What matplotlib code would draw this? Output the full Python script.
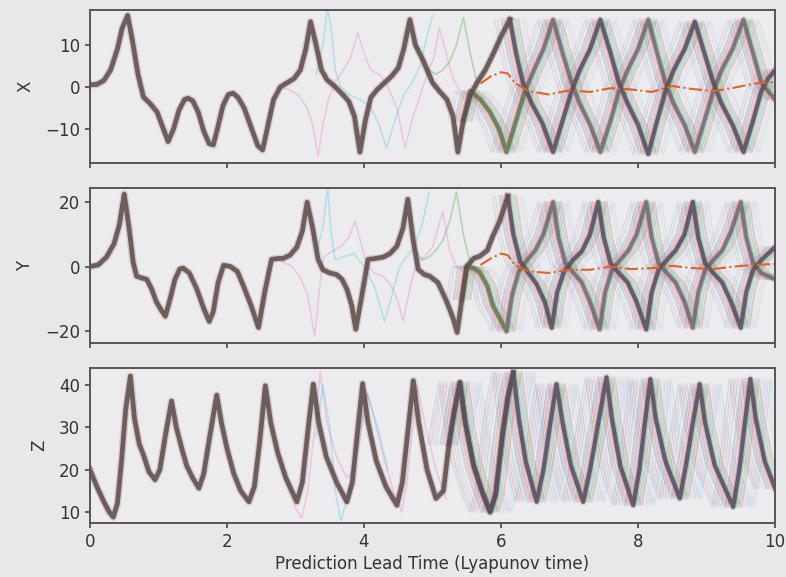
import numpy as np
import matplotlib.pyplot as plt
from matplotlib.transforms import offset_copy

# ---- values ----
# main (ensemble core) trajectory, before the ensemble splits
t_x_main = [0.00, 0.10, 0.20, 0.30, 0.40, 0.47, 0.55, 0.62, 0.70, 0.78, 0.88, 0.98, 1.06, 1.14,
            1.22, 1.30, 1.38, 1.43, 1.50, 1.58, 1.66, 1.74, 1.80, 1.86, 1.94, 2.02, 2.09, 2.16,
            2.25, 2.35, 2.45, 2.52, 2.60, 2.68, 2.78, 2.88, 2.98, 3.07, 3.15, 3.22, 3.30, 3.38,
            3.46, 3.58, 3.70, 3.78, 3.86, 3.94, 4.02, 4.10, 4.19, 4.30, 4.40, 4.50, 4.58, 4.67,
            4.75, 4.86, 5.00, 5.10, 5.21, 5.30, 5.37, 5.45, 5.55, 5.65, 5.77, 5.89, 6.00, 6.13]
x_main = [0.5, 0.6, 1.5, 4, 9, 14, 17, 11, 3, -2.4, -4, -6, -9.5, -13,
          -10, -5.5, -3, -2.7, -3.3, -6, -10.5, -13.5, -13.8, -10, -4.5, -1.8, -1.5, -2.5,
          -5, -9.5, -14, -15, -9, -3, 0, 1, 2, 4, 9, 15.5, 10, 4,
          1.7, 0, -2, -3.5, -7, -15.5, -8, -2.5, -0.7, 1, 2.5, 4.5, 9, 16,
          10, 6.4, 1, -1, -3, -7, -15.5, -8, -2, 1, 4, 8, 12, 16]

t_y_main = [0, 0.12, 0.24, 0.35, 0.43, 0.50, 0.57, 0.63, 0.68, 0.75, 0.83, 0.90, 0.97, 1.04,
            1.10, 1.17, 1.24, 1.31, 1.36, 1.45, 1.56, 1.66, 1.74, 1.80, 1.87, 1.95, 2.05, 2.15,
            2.24, 2.35, 2.46, 2.55, 2.65, 2.75, 2.82, 2.92, 3.02, 3.10, 3.17, 3.25, 3.33, 3.40,
            3.50, 3.60, 3.68, 3.75, 3.82, 3.88, 3.96, 4.06, 4.17, 4.28, 4.38, 4.48, 4.57, 4.64,
            4.72, 4.79, 4.88, 4.96, 5.08, 5.21, 5.30, 5.36, 5.43, 5.50, 5.60, 5.69, 5.80, 5.88,
            5.98, 6.10]
y_main = [0, 0.5, 2.9, 7, 13, 22.4, 12, 1.3, -3, -3.5, -4, -7, -11, -13.5,
          -15.4, -10, -4, -0.8, -0.5, -2, -7, -13, -17, -14, -5, 0.4, 0, -1.5,
          -6, -12, -18.9, -8, 2.2, 2.5, 2.5, 3.5, 6, 11, 19.9, 12, 2.2, -1,
          -2, -2.5, -4, -7, -12, -19.4, -10, 2.2, 2.5, 2.9, 4, 6.3, 12, 20.8,
          8, -0.8, -2.5, -3, -5, -11, -16, -20.4, -10, 0, 2.5, 3.2, 5, 9.4,
          14, 21.8]

t_z_main = [0, 0.10, 0.20, 0.28, 0.34, 0.40, 0.46, 0.52, 0.59, 0.65, 0.72, 0.78, 0.86, 0.95,
            1.02, 1.10, 1.19, 1.26, 1.34, 1.41, 1.50, 1.59, 1.66, 1.75, 1.85, 1.92, 2.00, 2.10,
            2.20, 2.32, 2.40, 2.48, 2.56, 2.64, 2.74, 2.86, 3.02, 3.10, 3.18, 3.26, 3.34, 3.45,
            3.60, 3.75, 3.83, 3.90, 3.98, 4.06, 4.18, 4.32, 4.48, 4.56, 4.64, 4.72, 4.80, 4.92,
            5.05, 5.16, 5.24, 5.32, 5.40, 5.48, 5.60, 5.72, 5.84, 5.92, 6.02, 6.10, 6.18]
z_main = [20, 16, 12.5, 10, 8.8, 12, 22, 34, 42.1, 32, 26, 23.5, 19.5, 17.6,
          20, 28, 36.2, 30, 25, 21, 18, 15.6, 19, 28, 37.6, 31, 25, 19,
          15, 12.4, 16, 27, 39.8, 31, 24, 18, 12.4, 17, 29, 40.2, 31, 23,
          17, 12.4, 17, 28, 40.3, 31, 22, 16, 11.6, 17, 29, 41, 31, 20,
          13.2, 15, 26, 34, 40.6, 31, 21, 15, 10, 14, 28, 37, 43]

# late ensemble: bundle A (continues the core) and bundle B (anti-phase)
t_x_a = [6.13, 6.22, 6.32, 6.45, 6.60, 6.76, 6.90, 7.03, 7.15, 7.30, 7.45, 7.60, 7.72, 7.85,
         8.00, 8.15, 8.28, 8.40, 8.52, 8.68, 8.83, 8.97, 9.10, 9.22, 9.38, 9.54, 9.68, 9.80,
         9.90, 10.0]
x_a = [16, 8, 1, -4, -8.5, -15.5, -8, -1, 4, 9, 16, 8, 1, -4,
       -9, -16, -8, -1, 4, 9, 15.5, 8, 1, -4, -9, -15.5, -8, -1, 2, 4]
t_x_b = [5.45, 5.55, 5.70, 5.84, 5.97, 6.08, 6.22, 6.35, 6.48, 6.62, 6.76, 6.90, 7.03, 7.15,
         7.30, 7.45, 7.60, 7.72, 7.85, 8.00, 8.15, 8.28, 8.40, 8.52, 8.68, 8.83, 8.97, 9.10,
         9.22, 9.38, 9.54, 9.68, 9.80, 9.90, 10.0]
x_b = [-8, -1, -3, -6, -10, -15.5, -8, -1, 4, 9, 16, 8, 1, -4,
       -9, -15.5, -8, -1, 4, 9, 16, 8, 1, -4, -9, -15.5, -8, -1, 4, 9,
       16, 8, 1, -1, -3]

t_y_a = [6.10, 6.18, 6.28, 6.40, 6.52, 6.64, 6.74, 6.82, 6.92, 7.05, 7.18, 7.30, 7.42, 7.50,
         7.60, 7.72, 7.85, 7.98, 8.12, 8.20, 8.30, 8.42, 8.55, 8.68, 8.80, 8.88, 8.98, 9.10,
         9.23, 9.36, 9.50, 9.58, 9.68, 9.80, 9.90, 10.0]
y_a = [21.8, 10, 1.6, -2, -5.5, -11, -19, -8, -1.5, 2, 4.7, 10, 20, 9,
       1, -2, -5, -11, -19.5, -8, -1, 2, 5, 10, 20, 9, 1, -2,
       -5, -11, -19, -8, -1, 2, 4, 6]
t_y_b = [5.43, 5.50, 5.60, 5.69, 5.80, 5.88, 5.98, 6.08, 6.16, 6.26, 6.38, 6.50, 6.62, 6.76,
         6.84, 6.94, 7.06, 7.18, 7.30, 7.44, 7.52, 7.62, 7.74, 7.86, 7.98, 8.12, 8.20, 8.30,
         8.42, 8.55, 8.68, 8.80, 8.88, 8.98, 9.10, 9.23, 9.36, 9.50, 9.58, 9.68, 9.80, 9.90, 10.0]
y_b = [-10, 0, -0.5, -1.8, -6, -12, -16, -20, -9, -1.5, 2, 5, 10, 20,
       9, 1, -2, -5, -11, -19.5, -8, -1, 2, 5, 10, 20, 9, 1,
       -2, -5, -11, -19, -8, -1, 2, 5, 11, 20, 9, 1, -2, -3, -4]

t_z_a = [5.24, 5.32, 5.40, 5.48, 5.60, 5.72, 5.84, 5.92, 6.02, 6.10,
         6.18, 6.26, 6.36, 6.52, 6.62, 6.72, 6.81, 6.90, 7.02, 7.20, 7.30, 7.42, 7.54, 7.62,
         7.74, 7.93, 8.02, 8.10, 8.18, 8.26, 8.40, 8.61, 8.70, 8.80, 8.90, 8.98, 9.12, 9.39,
         9.48, 9.56, 9.64, 9.72, 9.85, 10.0]
z_a = [26, 34, 40.6, 31, 21, 15, 10, 14, 28, 37,
       43, 32, 22, 12.4, 20, 31, 40.2, 31, 21, 12.4, 20, 31, 41.8, 32,
       21, 11.6, 20, 31, 41.4, 32, 22, 13.2, 21, 31, 40.2, 31, 21, 11.2,
       20, 31, 41.4, 32, 22, 15.6]

# a few members that leave the core early (faint lines)
t_x_pink = [2.73, 2.80, 2.92, 3.05, 3.17, 3.25, 3.33, 3.40, 3.48, 3.60, 3.70, 3.80, 3.91, 4.00,
            4.10, 4.23, 4.35, 4.48, 4.60, 4.70, 4.80, 4.92, 5.02, 5.10, 5.20, 5.30, 5.40]
x_pink = [-0.2, -0.3, -0.7, -2, -5, -9, -16.5, -9, -3, 1.7, 4, 6.9, 12.9, 8,
          4, 2.9, 0, -5, -14.5, -8, -3, 2.9, 7, 14, 8, 2, -1]
t_y_pink = [2.70, 2.80, 2.95, 3.07, 3.18, 3.28, 3.36, 3.41, 3.53, 3.65, 3.78, 3.87, 3.96, 4.04,
            4.15, 4.28, 4.40, 4.50, 4.57, 4.66, 4.76, 4.88, 5.00, 5.15, 5.25, 5.35]
y_pink = [2.4, 1.5, 0, -3.4, -9, -21.6, -5, 2.9, 4.7, 6, 9, 14, 7, 0.7,
          -2, -3, -6, -11, -17, -8, 1, 3, 6, 17, 5, 0]
t_z_pink = [2.74, 2.86, 3.00, 3.09, 3.18, 3.28, 3.36, 3.46, 3.60, 3.75, 3.85, 3.95, 4.05, 4.15,
            4.30, 4.45, 4.55, 4.62, 4.70, 4.78, 4.90, 5.05, 5.20]
z_pink = [24, 17, 11, 8.5, 15, 30, 43, 31, 23, 18, 20, 28, 38, 32,
          22, 14, 10, 16, 28, 40, 30, 20, 13]

t_x_cyan = [3.30, 3.40, 3.47, 3.52, 3.58, 3.66, 3.80, 3.95, 4.10, 4.22, 4.33, 4.45, 4.58, 4.70,
            4.82, 4.92, 5.00]
x_cyan = [3, 10, 19, 14, 4, 0, -2, -3, -5, -9, -14.5, -8, -2, 1, 5, 12, 17]
t_y_cyan = [3.30, 3.40, 3.47, 3.52, 3.58, 3.70, 3.85, 4.00, 4.15, 4.30, 4.42, 4.52, 4.62, 4.74,
            4.86, 4.95]
y_cyan = [4, 12, 25, 10, 2, 3, 4, 0, -6, -17, -8, 0, 3, 6, 14, 23]
t_z_cyan = [3.30, 3.40, 3.50, 3.58, 3.66, 3.78, 3.92, 4.05, 4.20, 4.35]
z_cyan = [28, 40, 30, 15, 8, 14, 28, 38, 30, 20]

t_x_green = [4.75, 4.85, 4.95, 5.05, 5.15, 5.25, 5.35, 5.45, 5.55, 5.65]
x_green = [10, 7, 4, 3, 4, 6, 10, 16.5, 8, 1]
t_y_green = [4.75, 4.85, 4.95, 5.05, 5.15, 5.25, 5.35, 5.45, 5.55, 5.65]
y_green = [5, 2, 3, 5, 8, 14, 23, 10, 1, -2]

# ensemble mean (dash-dot)
t_mean = [5.70, 5.85, 6.00, 6.10, 6.20, 6.40, 6.70, 7.00, 7.30, 7.60, 7.90, 8.20, 8.50, 8.80,
          9.10, 9.40, 9.70, 10.0]
x_mean = [0.8, 2.5, 3.5, 3.2, 1.0, -1.0, -1.8, -0.8, -1.2, -0.3, -0.6, -1.2, 0.2, -0.5,
          -1.0, -0.2, 0.8, 1.2]
y_mean = [0.5, 2.5, 4.0, 3.5, 0.5, -1.5, -2.0, -1.0, -1.0, 0.0, -0.8, -0.5, 0.2, -0.5,
          -0.8, 0.0, 0.5, 0.8]

ylabels = ['X', 'Y', 'Z']
yticks = [[-10, 0, 10], [-20, 0, 20], [10, 20, 30, 40]]
ylims = [(-18.1, 18.3), (-23.7, 24.3), (7.4, 44.0)]
xticks = [0, 2, 4, 6, 8, 10]

BG = '#e8e8ea'
CORE = '#5f5250'
haze_cols = ['#1f77b4', '#ff7f0e', '#2ca02c', '#d62728', '#9467bd', '#8c564b',
             '#e377c2', '#7f7f7f', '#bcbd22', '#17becf']

fig = plt.figure(figsize=(7.86, 5.77), dpi=100, facecolor=BG)
boxes = [[0.1145, 0.7175, 0.8715, 0.2652],
         [0.1145, 0.4055, 0.8715, 0.2686],
         [0.1145, 0.0936, 0.8715, 0.2686]]
axes = [fig.add_axes(b) for b in boxes]


def haze(ax, t, v, lw=1.4, alpha=0.16, spread=(-6, -4, -2, 2, 4, 6)):
    # translucent coloured copies nudged sideways give the ensemble spread look
    for i, dx in enumerate(spread):
        tr = offset_copy(ax.transData, fig=fig, x=dx, y=0, units='points')
        ax.plot(t, v, color=haze_cols[(i * 3) % 10], lw=lw, alpha=alpha, transform=tr,
                solid_joinstyle='round')


def core(ax, t, v, col=CORE, lw=3.4, alpha=0.9):
    ax.plot(t, v, color='#8c564b', lw=lw + 2, alpha=0.22, solid_joinstyle='round')
    ax.plot(t, v, color=col, lw=lw, alpha=alpha, solid_joinstyle='round')


data = [
    dict(main=(t_x_main, x_main), a=(t_x_a, x_a), b=(t_x_b, x_b),
         pink=(t_x_pink, x_pink), cyan=(t_x_cyan, x_cyan), green=(t_x_green, x_green),
         mean=(t_mean, x_mean)),
    dict(main=(t_y_main, y_main), a=(t_y_a, y_a), b=(t_y_b, y_b),
         pink=(t_y_pink, y_pink), cyan=(t_y_cyan, y_cyan), green=(t_y_green, y_green),
         mean=(t_mean, y_mean)),
    dict(main=(t_z_main, z_main), a=(t_z_a, z_a), b=None,
         pink=(t_z_pink, z_pink), cyan=(t_z_cyan, z_cyan), green=None, mean=None),
]

for ax, d, lab, yt, yl in zip(axes, data, ylabels, yticks, ylims):
    ax.set_facecolor('#ececee')
    # faint early members
    ax.plot(*d['pink'], color='#e377c2', lw=1.2, alpha=0.3)
    ax.plot(*d['cyan'], color='#17becf', lw=1.2, alpha=0.25)
    if d['green'] is not None:
        ax.plot(*d['green'], color='#2ca02c', lw=1.2, alpha=0.3)
    # late-time spread
    haze(ax, *d['a'], lw=1.6, alpha=0.2)
    haze(ax, *d['a'], lw=1.0, alpha=0.12, spread=(-11, -9, 9, 11))
    if d['b'] is not None:
        tb, vb = d['b']
        haze(ax, tb, vb, lw=1.6, alpha=0.2)
        haze(ax, tb, vb, lw=1.0, alpha=0.12, spread=(-11, -9, 9, 11))
        core(ax, tb, vb, col='#645a62', lw=2.8, alpha=0.75)
        # olive-green start of the second bundle
        ax.plot(tb[:8], vb[:8], color='#6f8a45', lw=3.0, alpha=0.6)
    else:
        haze(ax, *d['a'], lw=1.2, alpha=0.14, spread=(-15, -13, 13, 15))
    core(ax, *d['main'])
    core(ax, *d['a'], col='#5a5060', lw=3.0)
    if d['mean'] is not None:
        ax.plot(*d['mean'], color='#e0622a', lw=1.5, ls='-.')

    ax.set_xlim(0, 10)
    ax.set_ylim(*yl)
    ax.set_yticks(yt)
    ax.set_xticks(xticks)
    ax.set_ylabel(lab, fontsize=12, color='#333333', labelpad=8)
    ax.tick_params(labelsize=12, colors='#444444', labelcolor='#333333', width=1.2)
    for s in ax.spines.values():
        s.set_color('#555555')
        s.set_linewidth(1.4)

axes[0].tick_params(labelbottom=False)
axes[1].tick_params(labelbottom=False)
axes[2].set_xlabel('Prediction Lead Time (Lyapunov time)', fontsize=12, color='#333333',
                   labelpad=3)

fig.savefig('out.png', dpi=100, facecolor=BG)
